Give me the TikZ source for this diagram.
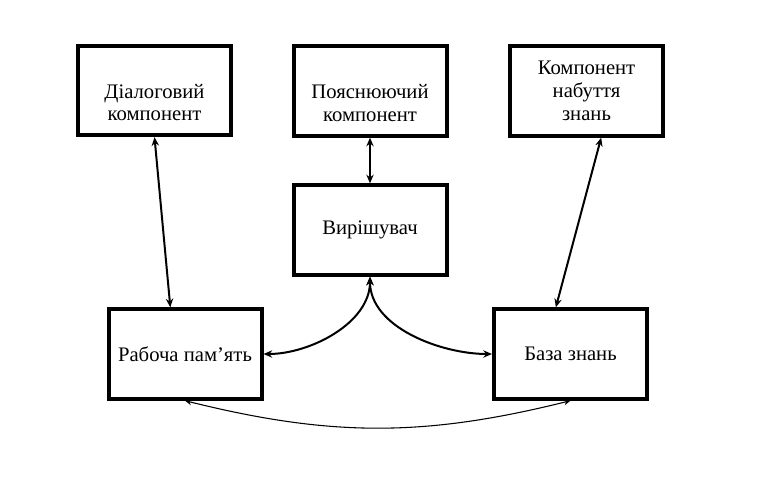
\documentclass[tikz,border=0pt]{standalone}
\usepackage{fontspec}
\setmainfont{Liberation Serif}
\usepackage{tikz}
\usetikzlibrary{shapes.geometric, arrows, arrows.meta}

\begin{document}
\begin{tikzpicture}[x=0.75pt,y=-0.75pt,>={Stealth[length=6.5pt,width=5.5pt]},
  block/.style={draw, line width=3pt, minimum width=114.75pt, minimum height=67pt,
    align=center, font=\fontsize{15.5}{17}\selectfont}]
\useasboundingbox (0,0) rectangle (757,481);
\node[block] (DialogComp) at (154.5,90.5) {\strut\\Діалоговий\\компонент};
\node[block] (ExplainComp) at (370,91) {\strut\\Пояснюючий\\компонент};
\node[block] (AcquireComp) at (586.5,91) {Компонент\\набуття\\знань};
\node[block] (Solver) at (370,230) {Вирішувач};
\node[block] (WorkMem) at (185,354) {Рабоча пам’ять};
\node[block] (KnowBase) at (570.5,354) {База знань};

\draw[<->,line width=1.5pt] (DialogComp.south) to ([xshift=-11pt]WorkMem.north);
\draw[<->,line width=1.5pt] ([xshift=11pt]AcquireComp.south) to ([xshift=-11pt]KnowBase.north);
\draw[<->,line width=1.2pt] (ExplainComp.south) to (Solver.north);

\draw[<->,line width=1.5pt] (Solver.south) to[out=-90,in=0,looseness=0.9] (WorkMem.east);
\draw[<->,line width=1.5pt] (Solver.south) to[out=-90,in=180,looseness=0.9] (KnowBase.west);

\draw[<->,line width=0.8pt,>={Stealth[length=5pt,width=4.5pt]}] (WorkMem.south) to[bend right=14] (KnowBase.south);
\end{tikzpicture}
\end{document}
